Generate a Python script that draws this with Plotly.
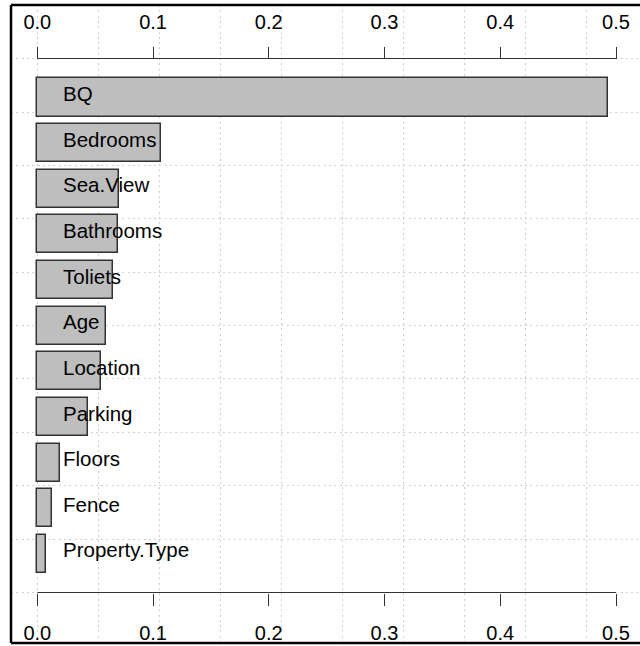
import plotly.graph_objects as go

# ---- data ----
variables = ["BQ", "Bedrooms", "Sea.View", "Bathrooms", "Toliets", "Age",
             "Location", "Parking", "Floors", "Fence", "Property.Type"]
importance = [0.4928, 0.1069, 0.0706, 0.0700, 0.0651, 0.0594,
              0.0548, 0.0441, 0.0196, 0.0127, 0.0073]
tick_values = [0.0, 0.1, 0.2, 0.3, 0.4, 0.5]
tick_labels = ["0.0", "0.1", "0.2", "0.3", "0.4", "0.5"]

# ---- layout geometry (R barplot style: width 1, space 0.2) ----
n = len(variables)
ypos = [0.7 + 1.2 * (n - 1 - i) for i in range(n)]  # BQ on top

W, H = 640, 646
ML, MR, MT, MB = 11, 0, 5, 3
pw, ph = W - ML - MR, H - MT - MB

px0, px_per_unit = 37.3, 1157.4          # x pixel of 0 and px per unit
xr = [(ML - px0) / px_per_unit, (W - MR - px0) / px_per_unit]
y_ref_px, y_ref_val, py_per_unit = 97.5, ypos[0], 38.04
yr = [y_ref_val - ((H - MB) - y_ref_px) / py_per_unit,
      y_ref_val + (y_ref_px - MT) / py_per_unit]

def yfrac(py):
    return ((H - MB) - py) / ph

FONT = "Liberation Sans, Arial, sans-serif"
GRID = dict(showgrid=True, gridcolor="#D0D0D0", griddash="2px,3.3px", gridwidth=1)
fig = go.Figure()

fig.add_trace(go.Bar(
    x=importance, y=ypos, orientation="h", width=1.0,
    xaxis="x", yaxis="y",
    marker=dict(color="#BEBEBE", line=dict(color="#333333", width=1.5)),
    hoverinfo="skip", showlegend=False,
))
# invisible trace so the overlaid top axis is drawn
fig.add_trace(go.Scatter(x=[tick_values[0], tick_values[-1]], y=[ypos[0], ypos[0]],
                         xaxis="x2", yaxis="y", mode="markers",
                         marker=dict(opacity=0), hoverinfo="skip", showlegend=False))

for name, yv in zip(variables, ypos):
    fig.add_annotation(x=0.0205, y=yv, xref="x", yref="y", text=name, showarrow=False,
                       xanchor="left", yanchor="middle", yshift=4,
                       font=dict(family=FONT, size=20.5, color="black"))

tick_axis = dict(range=xr, anchor="free", showline=False, automargin=False,
                 ticks="outside", ticklen=12, tickwidth=1, tickcolor="#333333",
                 tickvals=tick_values, ticktext=tick_labels, showgrid=False,
                 ticklabelstandoff=10,
                 zeroline=False, tickfont=dict(family=FONT, size=20, color="black"))

fig.update_layout(
    width=W, height=H, margin=dict(l=ML, r=MR, t=MT, b=MB, autoexpand=False),
    paper_bgcolor="white", plot_bgcolor="white",
    bargap=0,
    xaxis=dict(tick_axis, side="bottom", position=yfrac(592.5),
               minor=dict(tickmode="linear", tick0=0, dtick=0.05275, ticks="", **GRID)),
    xaxis2=dict(tick_axis, side="top", overlaying="x", position=yfrac(58.5)),
    yaxis=dict(range=yr, showticklabels=False, ticks="", automargin=False,
               tick0=-0.31, dtick=1.403, zeroline=False, showline=False, **GRID),
)

# axis lines spanning the tick range (R style)
for py in (592.5, 58.5):
    fig.add_shape(type="line", xref="x", yref="paper", x0=tick_values[0], x1=tick_values[-1],
                  y0=yfrac(py), y1=yfrac(py), line=dict(color="#333333", width=1))

# outer frame (left, top, bottom edges)
for x0, y0, x1, y1 in [(0, 0, 0, 1), (0, 1, 1.02, 1), (0, 0, 1.02, 0)]:
    fig.add_shape(type="line", xref="paper", yref="paper", x0=x0, y0=y0, x1=x1, y1=y1,
                  line=dict(color="black", width=2.5))

fig.write_html("out.html", config={"displayModeBar": False},
               post_script="document.body.style.margin='0px';")
